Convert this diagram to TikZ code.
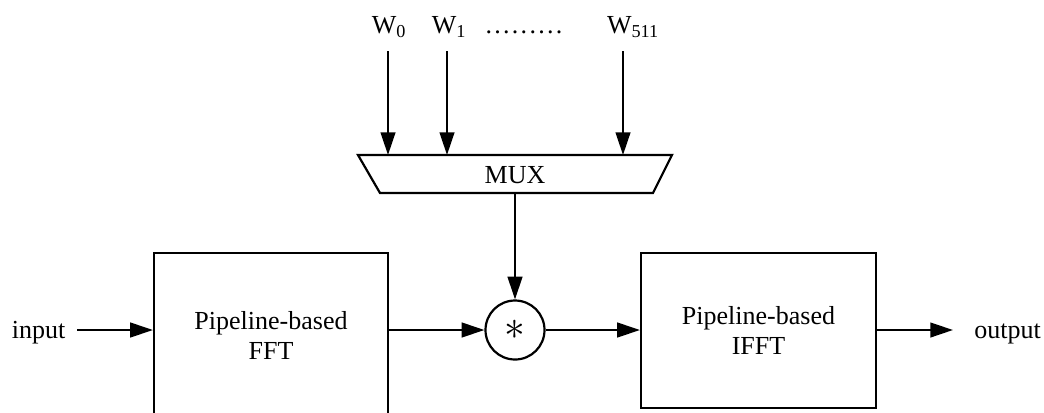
\documentclass[tikz,border=0pt]{standalone}
\usepackage{fontspec}
\usepackage{graphicx}
\setmainfont{Liberation Serif}
\usetikzlibrary{arrows.meta,calc}
\newcommand{\mydots}{.\kern1.7pt.\kern1.7pt.\kern1.7pt.\kern1.7pt.\kern1.7pt.\kern1.7pt.\kern1.7pt.\kern1.7pt.}
\begin{document}
\begin{tikzpicture}[x=0.75pt,y=-0.75pt,
  every node/.style={font=\fontsize{19.5}{22.5}\selectfont},
  line/.style={line width=1.65pt},
  arr/.style={line width=1.65pt,-{Triangle[length=17pt,width=11pt]}},
  block/.style={draw,line width=1.65pt,rectangle,align=center,inner sep=0pt},
  lbl/.style={inner sep=0pt,anchor=base}]
\useasboundingbox (0,0) rectangle (1044,412);
\clip (0,0) rectangle (1044,412);
% labels on top
\node[lbl] (w0) at (389,33) {W\textsubscript{0}};
\node[lbl] (w1) at (449,33) {W\textsubscript{1}};
\node[lbl] (wdots) at (524,33) {\mydots};
\node[lbl] (w511) at (633,33) {W\textsubscript{511}};
\coordinate (s0) at (388,51);
\coordinate (s1) at (447,51);
\coordinate (s511) at (623,51);
% MUX
\coordinate (mtl) at (358,155);
\coordinate (mtr) at (672,155);
\coordinate (mbr) at (653,193);
\coordinate (mbl) at (380,193);
\draw[line,line join=miter] (mtl) -- (mtr) -- (mbr) -- (mbl) -- cycle;
\node[lbl] (mux) at (515,183) {MUX};
\coordinate (m0) at (388,155);
\coordinate (m1) at (447,155);
\coordinate (m511) at (623,155);
\coordinate (mout) at (515,193);
\draw[arr] (s0) -- (m0);
\draw[arr] (s1) -- (m1);
\draw[arr] (s511) -- (m511);
% blocks
\node[block,minimum width=175.5pt,minimum height=123pt] (fft) at (271,335) {Pipeline-based\\FFT};
\node[block,minimum width=176.25pt,minimum height=116.25pt] (ifft) at (758.5,330.5) {Pipeline-based\\IFFT};
\node[draw,circle,line width=1.65pt,minimum size=44.25pt,inner sep=0pt] (mul) at (515,330) {\scalebox{1.5}{$\ast$}};
% input / output
\node[lbl] (in) at (38.5,338) {input};
\node[lbl] (out) at (1007.5,338) {output};
\coordinate (ins) at (77,330);
\coordinate (oute) at (953,330);
\draw[arr] (ins) -- (ins -| fft.west);
\draw[arr] (mul.west -| fft.east) -- (mul.west);
\draw[arr] (mul.east) -- (mul.east -| ifft.west);
\draw[arr] (oute -| ifft.east) -- (oute);
\draw[arr] (mout) -- (mul.north);
\end{tikzpicture}
\end{document}
